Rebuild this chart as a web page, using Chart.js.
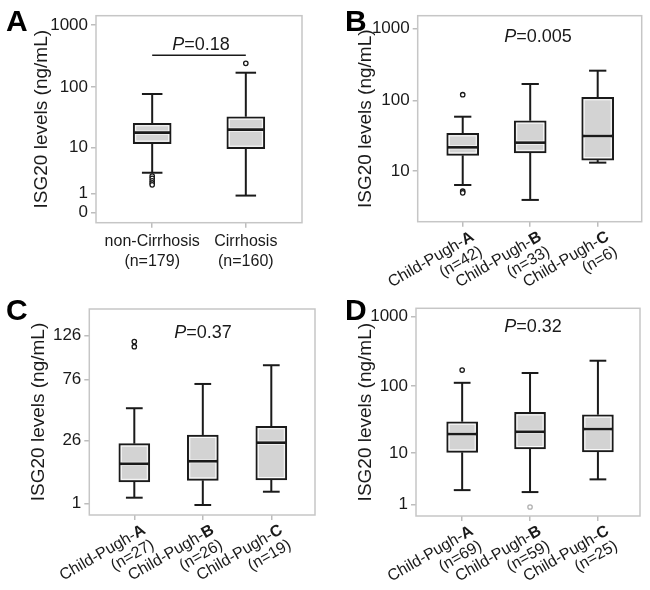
<!DOCTYPE html>
<html>
<head>
<meta charset="utf-8">
<script src="https://cdn.jsdelivr.net/npm/chart.js@4.4.1/dist/chart.umd.min.js"></script>
<style>
  body { margin: 0; background: #fff; }
  #fig { position: relative; width: 650px; height: 590px; overflow: hidden; }
  #fig canvas { position: absolute; }
</style>
</head>
<body>
<div id="fig">
  <canvas id="chartA" width="325" height="305" style="left:0;top:0"></canvas>
  <canvas id="chartB" width="325" height="305" style="left:325px;top:0"></canvas>
  <canvas id="chartC" width="325" height="300" style="left:0;top:290px"></canvas>
  <canvas id="chartD" width="325" height="300" style="left:325px;top:290px"></canvas>
</div>
<script>
// ---- data ----
// each box: [lower whisker, Q1, median, Q3, upper whisker] in ng/mL

const cirrhosisGroups = ["non-Cirrhosis", "Cirrhosis"];
const cirrhosisN = [179, 160];
const cirrhosisBoxes = [[3.3, 11.6, 17.9, 25.7, 77.7], [0.85, 9.45, 20.1, 33, 171.6]];
const cirrhosisOutliers = [[2.8, 2.5, 2.2, 1.95, 1.75], [243]];
const cirrhosisTicks = [0, 1, 10, 100, 1000];
const cirrhosisP = "0.18";
const cirrhosisBracketAt = 327;

const childPughGrades = ["A", "B", "C"];

const panelBN = [42, 33, 6];
const panelBBoxes = [[6.05, 17, 22.2, 35.1, 60.1], [3.4, 18.5, 25.9, 52.8, 170.8], [13.3, 14.5, 32.2, 111.8, 260.8]];
const panelBOutliers = [[121.5, 4.8, 4.5], [], []];
const panelBTicks = [10, 100, 1000];
const panelBP = "0.005";

const panelCN = [27, 26, 19];
const panelCBoxes = [[1.95, 6.1, 13.2, 23.9, 49.4], [0.77, 6.6, 14.4, 29.4, 71.5], [3.27, 6.7, 24.5, 35.4, 91]];
const panelCOutliers = [[118.6, 112.4], [], []];
const panelCTicks = [1, 26, 76, 126];
const panelCP = "0.37";

const panelDN = [69, 59, 25];
const panelDBoxes = [[2.2, 10.2, 19.5, 29.8, 111], [2.0, 11.5, 21.1, 41, 154], [3.57, 10.3, 23.2, 37.9, 231.8]];
const panelDOutliers = [[170], [], []];
const panelDFaintOutliers = [[], [0.83], []];
const panelDTicks = [1, 10, 100, 1000];
const panelDP = "0.32";

const yTitle = "ISG20 levels (ng/mL)";

// ---- custom y scale: log10(v+1) or power transform ----
const FONT = '"Liberation Sans", Arial, Helvetica, sans-serif';
Chart.defaults.font.family = FONT;
Chart.defaults.color = "#1a1a1a";

const transforms = {
  log1p: { f: v => Math.log10(v + 1), inv: t => Math.pow(10, t) - 1 },
  pow: { f: v => Math.pow(Math.max(v, 0), 0.55), inv: t => Math.pow(Math.max(t, 0), 1 / 0.55) }
};

class TransformedScale extends Chart.Scale {
  static id = "transformed";
  static defaults = {};
  determineDataLimits() {
    this.min = this.options.min;
    this.max = this.options.max;
  }
  buildTicks() {
    return this.options.tickValues.map(v => ({ value: v }));
  }
  getLabelForValue(v) { return String(v); }
  getPixelForTick(i) { return this.getPixelForValue(this.ticks[i].value); }
  getPixelForValue(v) {
    const tr = transforms[this.options.transform].f;
    const a = tr(this.min), b = tr(this.max);
    return this.getPixelForDecimal((tr(v) - a) / (b - a));
  }
  getValueForPixel(p) {
    const t = transforms[this.options.transform];
    const a = t.f(this.min), b = t.f(this.max);
    return t.inv(a + this.getDecimalForPixel(p) * (b - a));
  }
}
Chart.register(TransformedScale);

// ---- drawing helpers ----
const line = (ctx, x1, y1, x2, y2) => { ctx.beginPath(); ctx.moveTo(x1, y1); ctx.lineTo(x2, y2); ctx.stroke(); };

function drawPValue(ctx, x, y, value) {
  ctx.save();
  ctx.textBaseline = "middle";
  ctx.textAlign = "left";
  ctx.font = `italic 18px ${FONT}`;
  const wp = ctx.measureText("P").width;
  ctx.font = `18px ${FONT}`;
  const wr = ctx.measureText("=" + value).width;
  const x0 = x - (wp + wr) / 2;
  ctx.fillStyle = "#1a1a1a";
  ctx.font = `italic 18px ${FONT}`;
  ctx.fillText("P", x0, y);
  ctx.font = `18px ${FONT}`;
  ctx.fillText("=" + value, x0 + wp, y);
  ctx.restore();
}

function drawRotLabel(ctx, x, y, prefix, bold, second) {
  ctx.save();
  ctx.translate(x, y);
  ctx.rotate(-30 * Math.PI / 180);
  ctx.textBaseline = "middle";
  ctx.fillStyle = "#1a1a1a";
  ctx.font = `16px ${FONT}`;
  const w1 = ctx.measureText(prefix).width;
  ctx.font = `bold 16px ${FONT}`;
  const w2 = ctx.measureText(bold).width;
  ctx.textAlign = "left";
  ctx.font = `16px ${FONT}`;
  ctx.fillText(prefix, -(w1 + w2), 0);
  ctx.font = `bold 16px ${FONT}`;
  ctx.fillText(bold, -w2, 0);
  ctx.font = `16px ${FONT}`;
  ctx.textAlign = "right";
  ctx.fillText(second, 0, 17);
  ctx.restore();
}

const boxPlugin = (p) => ({
  id: "boxExtras",
  beforeDatasetsDraw(chart) {
    const { ctx, chartArea: a } = chart;
    ctx.save();
    ctx.strokeStyle = "#c6c6c6";
    ctx.lineWidth = 1.5;
    ctx.strokeRect(a.left, a.top, a.right - a.left, a.bottom - a.top);
    ctx.restore();
  },
  afterDatasetsDraw(chart) {
    const { ctx } = chart;
    const xs = chart.scales.x, ys = chart.scales.y;
    p.boxes.forEach((b, i) => {
      const cx = xs.getPixelForValue(i + 1);
      const [lo, q1, med, q3, hi] = b.map(v => ys.getPixelForValue(v));
      const half = p.barWidth / 2, cap = p.barWidth * 0.27;
      ctx.save();
      // light inner edge of the box halves
      ctx.strokeStyle = "rgba(255,255,255,0.9)";
      ctx.lineWidth = 1;
      ctx.strokeRect(cx - half + 2.5, q3 + 2.5, 2 * half - 5, med - q3 - 4);
      ctx.strokeRect(cx - half + 2.5, med + 1.5, 2 * half - 5, q1 - med - 4);
      ctx.strokeStyle = "#1a1a1a";
      ctx.lineWidth = 2;
      line(ctx, cx, hi, cx, q3);
      line(ctx, cx, q1, cx, lo);
      line(ctx, cx - cap, hi, cx + cap, hi);
      line(ctx, cx - cap, lo, cx + cap, lo);
      ctx.lineWidth = 2.6;
      line(ctx, cx - half + 1, med, cx + half - 1, med);
      ctx.restore();
    });
  },
  afterDraw(chart) {
    const { ctx, chartArea: a } = chart;
    const xs = chart.scales.x, ys = chart.scales.y;
    // panel letter
    ctx.save();
    ctx.fillStyle = "#000";
    ctx.font = `bold 30px ${FONT}`;
    ctx.textAlign = "left";
    ctx.textBaseline = "alphabetic";
    ctx.fillText(p.letter, p.letterX, p.letterY);
    ctx.restore();
    // P value
    drawPValue(ctx, p.pX, p.pY, p.pValue);
    if (p.bracketAt !== undefined) {
      ctx.save();
      ctx.strokeStyle = "#1a1a1a";
      ctx.lineWidth = 1.5;
      const y = ys.getPixelForValue(p.bracketAt);
      line(ctx, xs.getPixelForValue(1), y, xs.getPixelForValue(2), y);
      ctx.restore();
    }
    // category labels
    p.groups.forEach((g, i) => {
      const cx = xs.getPixelForValue(i + 1);
      if (p.rotated) {
        drawRotLabel(ctx, cx + p.labelDx, a.bottom + p.labelDy, "Child-Pugh-", g, `(n=${p.n[i]})`);
      } else {
        ctx.save();
        ctx.fillStyle = "#1a1a1a";
        ctx.font = `16px ${FONT}`;
        ctx.textAlign = "center";
        ctx.textBaseline = "middle";
        ctx.fillText(g, cx, a.bottom + 19);
        ctx.fillText(`(n=${p.n[i]})`, cx, a.bottom + 38.5);
        ctx.restore();
      }
    });
  }
});

function renderPanel(p) {
  const canvas = document.getElementById(p.canvas);
  const H = canvas.height, W = canvas.width;
  const datasets = [
    {
      type: "bar",
      data: p.boxes.map((b, i) => ({ x: i + 1, y: [b[1], b[3]] })),
      backgroundColor: "#d3d3d3",
      borderColor: "#1a1a1a",
      borderWidth: 2,
      borderSkipped: false,
      barThickness: p.barWidth
    },
    {
      type: "scatter",
      data: p.outliers.flatMap((vals, i) => vals.map(v => ({ x: i + 1, y: v }))),
      pointRadius: 2.2,
      pointBorderWidth: 1.3,
      pointBackgroundColor: "#fff",
      pointBorderColor: "#1a1a1a"
    }
  ];
  if (p.faintOutliers) {
    datasets.push({
      type: "scatter",
      data: p.faintOutliers.flatMap((vals, i) => vals.map(v => ({ x: i + 1, y: v }))),
      pointRadius: 2.2,
      pointBorderWidth: 1.3,
      pointBackgroundColor: "#fff",
      pointBorderColor: "#b0b0b0"
    });
  }
  new Chart(canvas, {
    type: "bar",
    data: { datasets },
    options: {
      responsive: false,
      animation: false,
      events: [],
      layout: { padding: { left: 0, top: p.area.t, right: W - p.area.r, bottom: 0 } },
      plugins: { legend: { display: false }, tooltip: { enabled: false } },
      scales: {
        x: {
          type: "linear",
          position: "bottom",
          min: p.xMin,
          max: p.xMax,
          offset: false,
          afterBuildTicks: s => { s.ticks = p.groups.map((g, i) => ({ value: i + 1 })); },
          afterFit: s => { s.height = H - p.area.b; },
          ticks: { display: false },
          grid: { offset: false, drawOnChartArea: false, drawTicks: true, tickLength: 5, color: "#bdbdbd", lineWidth: 1.5 },
          border: { display: false }
        },
        y: {
          type: "transformed",
          position: "left",
          transform: p.transform,
          min: p.yMin,
          max: p.yMax,
          tickValues: p.ticks,
          afterFit: s => { s.width = p.area.l; },
          ticks: { font: { size: 17 }, color: "#1a1a1a", padding: 3 },
          grid: { drawOnChartArea: false, drawTicks: true, tickLength: 5, color: "#bdbdbd", lineWidth: 1.5 },
          border: { display: false },
          title: {
            display: true,
            text: yTitle,
            font: { size: 19 },
            color: "#1a1a1a",
            padding: { top: p.titleX - 11.4, bottom: 0 }
          }
        }
      }
    },
    plugins: [boxPlugin(p)]
  });
}

renderPanel({
  canvas: "chartA", letter: "A", letterX: 6, letterY: 31,
  area: { l: 96, t: 15.7, r: 302, b: 222.7 },
  xMin: 0.4, xMax: 2.6, transform: "log1p", yMin: -0.32, yMax: 1415,
  ticks: cirrhosisTicks, titleX: 42, barWidth: 38,
  groups: cirrhosisGroups, n: cirrhosisN, boxes: cirrhosisBoxes, outliers: cirrhosisOutliers,
  pValue: cirrhosisP, pX: 201, pY: 45, bracketAt: cirrhosisBracketAt, rotated: false
});

renderPanel({
  canvas: "chartB", letter: "B", letterX: 20, letterY: 31,
  area: { l: 92.7, t: 15.7, r: 316.7, b: 221.7 },
  xMin: 0.333, xMax: 3.652, transform: "log1p", yMin: 1.21, yMax: 1488,
  ticks: panelBTicks, titleX: 40.8, barWidth: 32,
  groups: childPughGrades, n: panelBN, boxes: panelBBoxes, outliers: panelBOutliers,
  pValue: panelBP, pX: 213, pY: 37, rotated: true, labelDx: 10, labelDy: 14
});

renderPanel({
  canvas: "chartC", letter: "C", letterX: 6, letterY: 30,
  area: { l: 89.3, t: 19, r: 315, b: 225 },
  xMin: 0.343, xMax: 3.638, transform: "pow", yMin: 0.0082, yMax: 162,
  ticks: panelCTicks, titleX: 39, barWidth: 31,
  groups: childPughGrades, n: panelCN, boxes: panelCBoxes, outliers: panelCOutliers,
  pValue: panelCP, pX: 203, pY: 43, rotated: true, labelDx: 10, labelDy: 14
});

renderPanel({
  canvas: "chartD", letter: "D", letterX: 20, letterY: 30,
  area: { l: 91, t: 18.3, r: 315, b: 226 },
  xMin: 0.32, xMax: 3.62, transform: "log1p", yMin: 0.3576, yMax: 1321,
  ticks: panelDTicks, titleX: 40.5, barWidth: 31,
  groups: childPughGrades, n: panelDN, boxes: panelDBoxes, outliers: panelDOutliers,
  faintOutliers: panelDFaintOutliers,
  pValue: panelDP, pX: 208, pY: 37, rotated: true, labelDx: 10, labelDy: 14
});
</script>
</body>
</html>
